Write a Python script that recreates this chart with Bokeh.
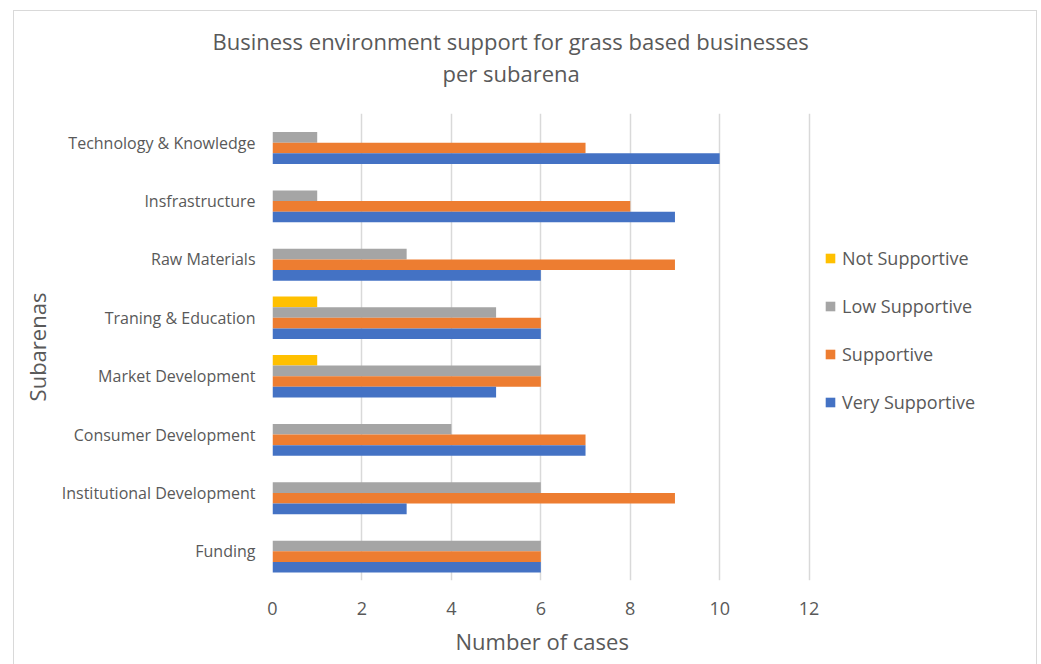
from bokeh.plotting import figure
from bokeh.models import (ColumnDataSource, FactorRange, Range1d, Legend, LegendItem,
                          Title, FixedTicker)
from bokeh.transform import dodge
from bokeh.embed import file_html
from bokeh.resources import INLINE

categories = ["Funding", "Institutional Development", "Consumer Development",
              "Market Development", "Traning & Education", "Raw Materials",
              "Insfrastructure", "Technology & Knowledge"]
very_supportive = [6, 3, 7, 5, 6, 6, 9, 10]
supportive = [6, 9, 7, 6, 6, 9, 8, 7]
low_supportive = [6, 6, 4, 6, 5, 3, 1, 1]
not_supportive = [0, 0, 0, 1, 1, 0, 0, 0]
x_ticks = [0, 2, 4, 6, 8, 10, 12]

series = [
    ("Not Supportive", "not_s", "#FFC000", 0.273),
    ("Low Supportive", "low_s", "#A5A5A5", 0.091),
    ("Supportive", "sup", "#ED7D31", -0.091),
    ("Very Supportive", "very", "#4472C4", -0.273),
]

source = ColumnDataSource(dict(cat=categories, very=very_supportive, sup=supportive,
                               low_s=low_supportive, not_s=not_supportive))

FONT = "Open Sans"
TXT = "#595959"

# frame spans the whole right part; the value axis stops visually at 12
p = figure(width=1024, height=654, output_backend="svg", toolbar_location=None,
           y_range=FactorRange(*categories, range_padding=0),
           x_range=Range1d(0, 17.04),
           min_border_left=258, min_border_right=4, min_border_top=102,
           min_border_bottom=85)
p.margin = (10, 4, 0, 13)
p.styles = {"border": "1px solid #d9d9d9", "border-bottom": "none",
            "box-sizing": "border-box"}
p.outline_line_color = None
p.background_fill_color = "white"
p.border_fill_color = "white"

renderers = {}
for name, col, color, off in series:
    r = p.hbar(y=dodge("cat", off, range=p.y_range), right=col, left=0, height=0.182,
               source=source, fill_color=color, line_color=None)
    renderers[name] = r

# axes
p.xaxis.ticker = FixedTicker(ticks=x_ticks)
p.xaxis.axis_line_color = None
p.xaxis.major_tick_line_color = None
p.xaxis.major_tick_out = 0
p.xaxis.minor_tick_line_color = None
p.xaxis.minor_tick_out = 0
p.xaxis.major_label_standoff = 21
p.xaxis.major_label_text_font = FONT
p.xaxis.major_label_text_font_size = "18px"
p.xaxis.major_label_text_color = TXT

# x-axis title, centred under the 0-12 scale
p.add_layout(Title(text="Number of cases", align="left", offset=183, text_font=FONT,
                   text_font_size="22px", text_font_style="normal", text_color=TXT,
                   standoff=12), "below")

p.yaxis.axis_line_color = None
p.yaxis.major_tick_line_color = None
p.yaxis.major_tick_out = 0
p.yaxis.minor_tick_line_color = None
p.yaxis.minor_tick_out = 0
p.yaxis.major_label_standoff = 17
p.yaxis.major_label_text_font = FONT
p.yaxis.major_label_text_font_size = "16px"
p.yaxis.major_label_text_color = TXT
p.yaxis.axis_label = "Subarenas"
p.yaxis.axis_label_text_font = FONT
p.yaxis.axis_label_text_font_size = "22px"
p.yaxis.axis_label_text_font_style = "normal"
p.yaxis.axis_label_text_color = TXT
p.yaxis.axis_label_standoff = 7

p.xgrid.grid_line_color = "#d9d9d9"
p.xgrid.grid_line_width = 1.5
p.ygrid.grid_line_color = None

# titles: spacer nearest the frame, then the two title lines
p.add_layout(Title(text=" ", text_font_size="10px", standoff=13), "above")
for txt, off in [("per subarena", 170), ("Business environment support for grass based businesses", -60)]:
    p.add_layout(Title(text=txt, align="left", offset=off, text_font=FONT,
                       text_font_size="22px", text_font_style="normal",
                       text_color=TXT, standoff=0), "above")

# legend
items = [LegendItem(label=name, renderers=[renderers[name]]) for name, _, _, _ in series]
legend = Legend(items=items, location=(552, 166), orientation="vertical",
                glyph_width=12, glyph_height=12, label_height=20, spacing=24,
                label_standoff=6, padding=10, margin=0, border_line_color=None,
                background_fill_alpha=0, label_text_font=FONT,
                label_text_font_size="18px", label_text_color=TXT)
p.add_layout(legend, "center")

open("out.html", "w").write(file_html(p, INLINE))
